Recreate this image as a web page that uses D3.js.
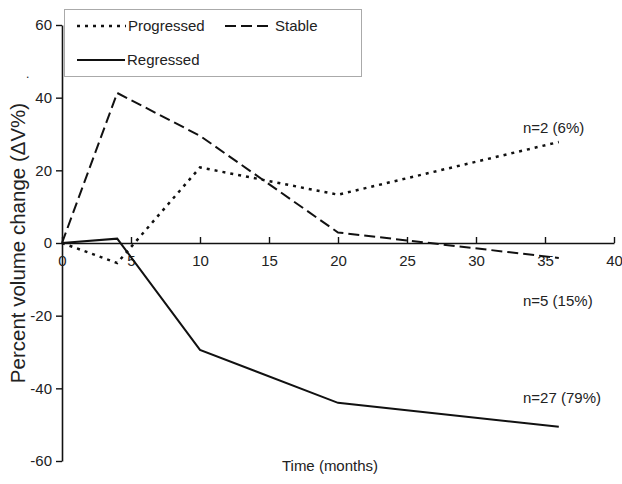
<!DOCTYPE html>
<html>
<head>
<meta charset="utf-8">
<script src="https://cdn.jsdelivr.net/npm/d3@7"></script>
<style>
  body { margin: 0; background: #fff; }
  text { font-family: "Liberation Sans", Arial, sans-serif; fill: #222; }
</style>
</head>
<body>
<div id="chart"></div>
<script>
// values
const months = [0, 4, 10, 20, 36];
const progressed = [0, -5.5, 20.8, 13.3, 27.8];
const stable = [0, 41.3, 29.5, 2.9, -4.1];
const regressed = [0, 1.2, -29.4, -44, -50.6];
const seriesNames = ["Progressed", "Stable", "Regressed"];
const counts = ["n=2 (6%)", "n=5 (15%)", "n=27 (79%)"];
const xTicks = [0, 5, 10, 15, 20, 25, 30, 35, 40];
const yTicks = [-60, -40, -20, 0, 20, 40, 60];

const width = 622, height = 484;

const svg = d3.select("#chart").append("svg")
  .attr("width", width)
  .attr("height", height);

const x = d3.scaleLinear().domain([0, 40]).range([62, 614]);
const y = d3.scaleLinear().domain([-60, 60]).range([461, 25]);

const dashes = { Progressed: "3,5", Stable: "11,5", Regressed: null };

// y axis
const yAxis = svg.append("g")
  .attr("transform", `translate(${x(0)},0)`)
  .call(d3.axisLeft(y).tickValues(yTicks).tickSize(6).tickSizeOuter(0).tickPadding(4));
yAxis.select(".domain").attr("stroke", "#111").attr("stroke-width", 1.6);
yAxis.selectAll(".tick line").attr("stroke", "#111").attr("stroke-width", 1.4);
yAxis.selectAll("text").style("font-size", "15px").attr("fill", "#222")
  .text(d => d);

// x axis along zero, ticks pointing up, labels below
const xAxis = svg.append("g")
  .attr("transform", `translate(0,${y(0)})`)
  .call(d3.axisBottom(x).tickValues(xTicks).tickSize(-6).tickSizeOuter(0).tickPadding(12));
xAxis.select(".domain").attr("stroke", "#111").attr("stroke-width", 1.6);
xAxis.selectAll(".tick line").attr("stroke", "#111").attr("stroke-width", 1.4);
xAxis.selectAll("text").style("font-size", "15px").attr("fill", "#222");

// lines
const line = d3.line().x((d, i) => x(months[i])).y(d => y(d));
const data = [progressed, stable, regressed];
data.forEach((vals, i) => {
  svg.append("path")
    .datum(vals)
    .attr("fill", "none")
    .attr("stroke", "#111")
    .attr("stroke-width", i === 0 ? 2.5 : 2)
    .attr("stroke-dasharray", dashes[seriesNames[i]])
    .attr("d", line);
});

// n labels
const countY = [133, 306, 403];
counts.forEach((c, i) => {
  svg.append("text")
    .attr("x", 523)
    .attr("y", countY[i])
    .style("font-size", "15px")
    .text(c);
});

// legend
const legend = svg.append("g");
legend.append("rect")
  .attr("x", 64.5).attr("y", 9.5)
  .attr("width", 297).attr("height", 67)
  .attr("fill", "#fff")
  .attr("stroke", "#aaa");

const legendItems = [
  { name: "Progressed", x1: 77, x2: 126, y: 26 },
  { name: "Stable", x1: 225, x2: 268, y: 26 },
  { name: "Regressed", x1: 77, x2: 125, y: 60 }
];
legendItems.forEach(d => {
  legend.append("line")
    .attr("x1", d.x1).attr("x2", d.x2)
    .attr("y1", d.y).attr("y2", d.y)
    .attr("stroke", "#111")
    .attr("stroke-width", d.name === "Progressed" ? 2.5 : 2)
    .attr("stroke-dasharray", dashes[d.name]);
  legend.append("text")
    .attr("x", d.x2 + (d.name === "Stable" ? 7 : 2))
    .attr("y", d.y + 5)
    .style("font-size", "15px")
    .text(d.name);
});

// stray dot in the figure
svg.append("text").attr("x", 26).attr("y", 78).style("font-size", "12px").text(".");

// axis titles
svg.append("text")
  .attr("transform", `translate(25,${y(0)}) rotate(-90)`)
  .attr("text-anchor", "middle")
  .style("font-size", "20.5px")
  .text("Percent volume change (\u0394V%)");

svg.append("text")
  .attr("x", 330)
  .attr("y", 471)
  .attr("text-anchor", "middle")
  .style("font-size", "15px")
  .text("Time (months)");
</script>
</body>
</html>
